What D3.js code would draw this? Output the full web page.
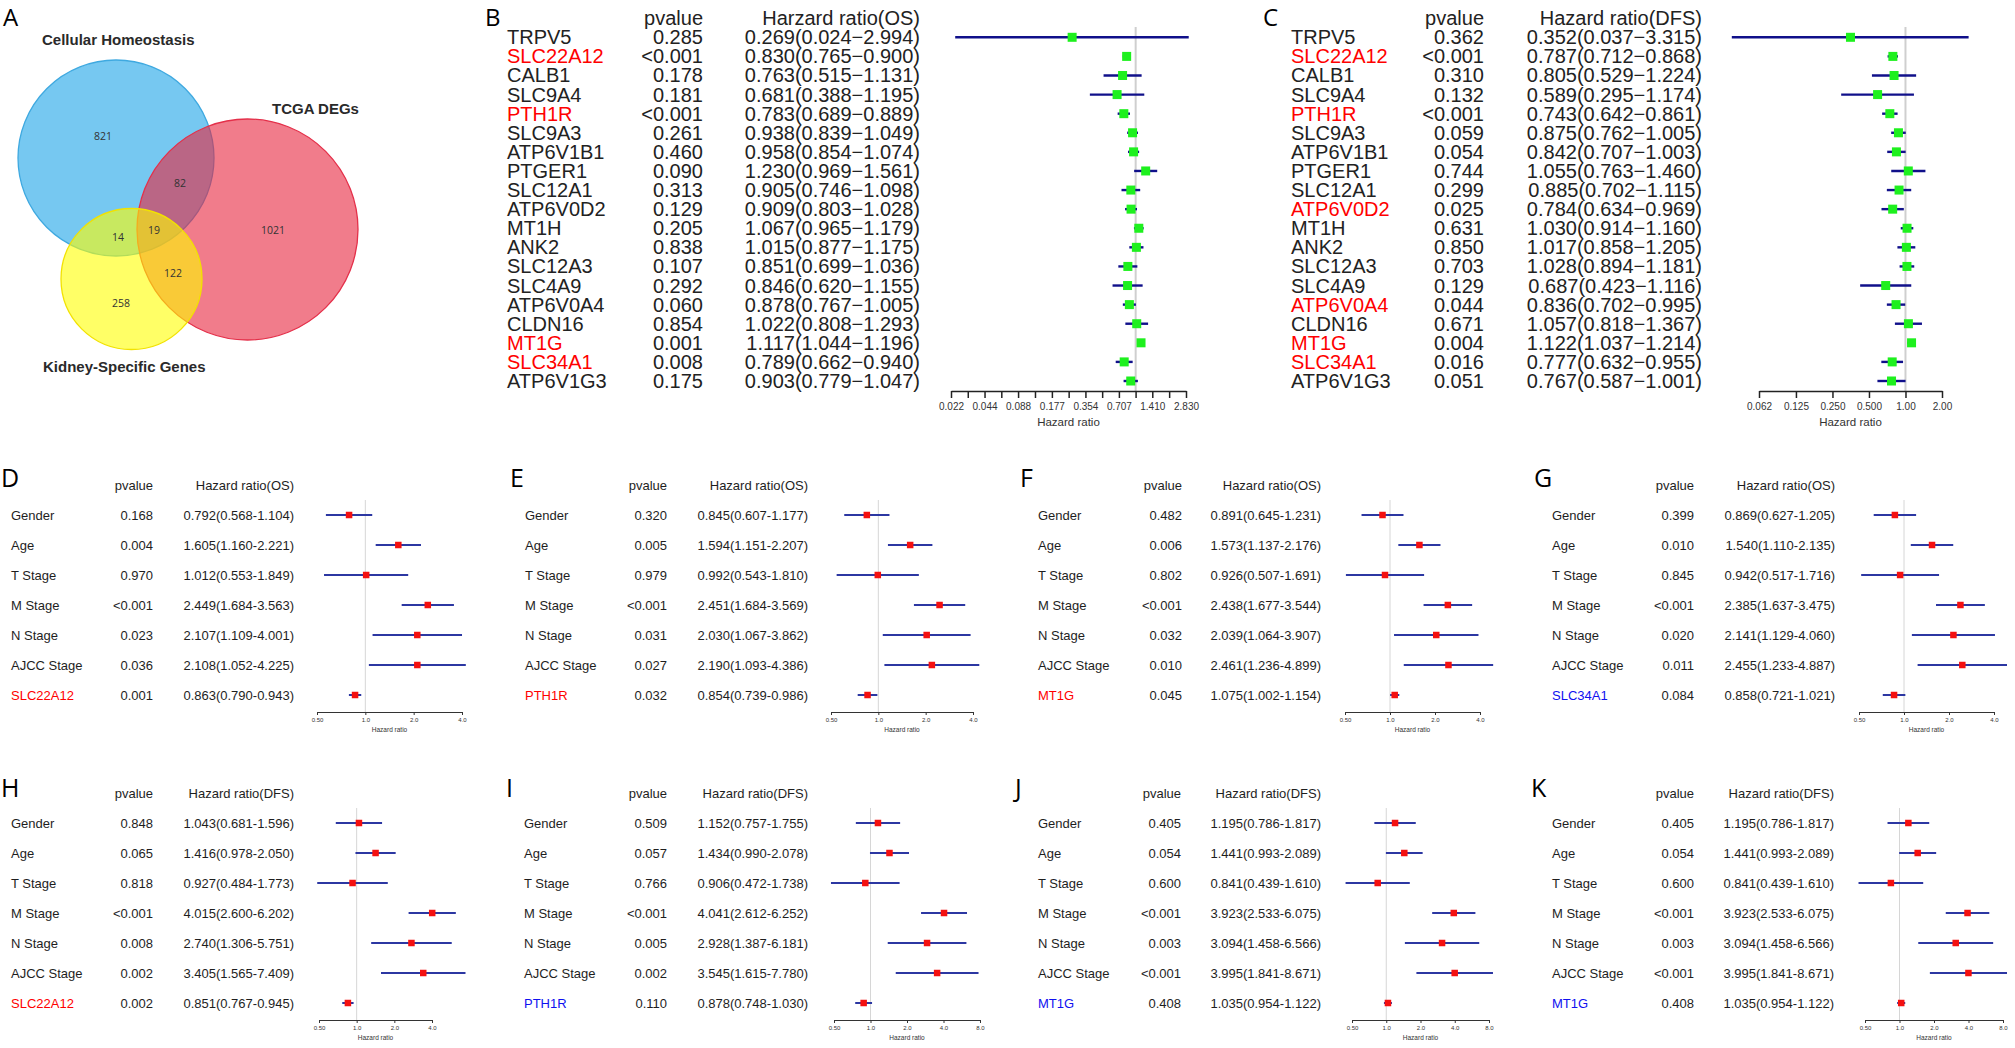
<!DOCTYPE html>
<html>
<head>
<meta charset="utf-8">
<script src="https://cdn.jsdelivr.net/npm/d3@7"></script>
<style>
  body { margin: 0; background: #fff; }
  svg { display: block; }
</style>
</head>
<body>
<script>
// ---------- data ----------

// Venn (panel A)
const vennSets = ["Cellular Homeostasis", "TCGA DEGs", "Kidney-Specific Genes"];
// regions: H only, T only, K only, H&T, H&K, T&K, H&T&K
const vennRegions = ["H", "T", "K", "HT", "HK", "TK", "HTK"];
const vennCounts = [821, 1021, 258, 82, 14, 122, 19];

// Univariate genes (panels B and C)
const genes = ["TRPV5", "SLC22A12", "CALB1", "SLC9A4", "PTH1R", "SLC9A3", "ATP6V1B1", "PTGER1",
  "SLC12A1", "ATP6V0D2", "MT1H", "ANK2", "SLC12A3", "SLC4A9", "ATP6V0A4", "CLDN16", "MT1G",
  "SLC34A1", "ATP6V1G3"];

const osPval = ["0.285", "<0.001", "0.178", "0.181", "<0.001", "0.261", "0.460", "0.090", "0.313",
  "0.129", "0.205", "0.838", "0.107", "0.292", "0.060", "0.854", "0.001", "0.008", "0.175"];
const osHR = [0.269, 0.830, 0.763, 0.681, 0.783, 0.938, 0.958, 1.230, 0.905, 0.909, 1.067, 1.015,
  0.851, 0.846, 0.878, 1.022, 1.117, 0.789, 0.903];
const osLow = [0.024, 0.765, 0.515, 0.388, 0.689, 0.839, 0.854, 0.969, 0.746, 0.803, 0.965, 0.877,
  0.699, 0.620, 0.767, 0.808, 1.044, 0.662, 0.779];
const osHigh = [2.994, 0.900, 1.131, 1.195, 0.889, 1.049, 1.074, 1.561, 1.098, 1.028, 1.179, 1.175,
  1.036, 1.155, 1.005, 1.293, 1.196, 0.940, 1.047];
const osSignif = ["SLC22A12", "PTH1R", "MT1G", "SLC34A1"];
const osTicks = ["0.022", "0.044", "0.088", "0.177", "0.354", "0.707", "1.410", "2.830"];

const dfsPval = ["0.362", "<0.001", "0.310", "0.132", "<0.001", "0.059", "0.054", "0.744", "0.299",
  "0.025", "0.631", "0.850", "0.703", "0.129", "0.044", "0.671", "0.004", "0.016", "0.051"];
const dfsHR = [0.352, 0.787, 0.805, 0.589, 0.743, 0.875, 0.842, 1.055, 0.885, 0.784, 1.030, 1.017,
  1.028, 0.687, 0.836, 1.057, 1.122, 0.777, 0.767];
const dfsLow = [0.037, 0.712, 0.529, 0.295, 0.642, 0.762, 0.707, 0.763, 0.702, 0.634, 0.914, 0.858,
  0.894, 0.423, 0.702, 0.818, 1.037, 0.632, 0.587];
const dfsHigh = [3.315, 0.868, 1.224, 1.174, 0.861, 1.005, 1.003, 1.460, 1.115, 0.969, 1.160, 1.205,
  1.181, 1.116, 0.995, 1.367, 1.214, 0.955, 1.001];
const dfsSignif = ["SLC22A12", "PTH1R", "ATP6V0D2", "ATP6V0A4", "MT1G", "SLC34A1"];
const dfsTicks = ["0.062", "0.125", "0.250", "0.500", "1.00", "2.00"];

// Multivariate panels D-K: [label, pvalue, HR, lower, upper]
const panelD = [["Gender", "0.168", 0.792, 0.568, 1.104], ["Age", "0.004", 1.605, 1.160, 2.221],
  ["T Stage", "0.970", 1.012, 0.553, 1.849], ["M Stage", "<0.001", 2.449, 1.684, 3.563],
  ["N Stage", "0.023", 2.107, 1.109, 4.001], ["AJCC Stage", "0.036", 2.108, 1.052, 4.225],
  ["SLC22A12", "0.001", 0.863, 0.790, 0.943]];
const panelE = [["Gender", "0.320", 0.845, 0.607, 1.177], ["Age", "0.005", 1.594, 1.151, 2.207],
  ["T Stage", "0.979", 0.992, 0.543, 1.810], ["M Stage", "<0.001", 2.451, 1.684, 3.569],
  ["N Stage", "0.031", 2.030, 1.067, 3.862], ["AJCC Stage", "0.027", 2.190, 1.093, 4.386],
  ["PTH1R", "0.032", 0.854, 0.739, 0.986]];
const panelF = [["Gender", "0.482", 0.891, 0.645, 1.231], ["Age", "0.006", 1.573, 1.137, 2.176],
  ["T Stage", "0.802", 0.926, 0.507, 1.691], ["M Stage", "<0.001", 2.438, 1.677, 3.544],
  ["N Stage", "0.032", 2.039, 1.064, 3.907], ["AJCC Stage", "0.010", 2.461, 1.236, 4.899],
  ["MT1G", "0.045", 1.075, 1.002, 1.154]];
const panelG = [["Gender", "0.399", 0.869, 0.627, 1.205], ["Age", "0.010", 1.540, 1.110, 2.135],
  ["T Stage", "0.845", 0.942, 0.517, 1.716], ["M Stage", "<0.001", 2.385, 1.637, 3.475],
  ["N Stage", "0.020", 2.141, 1.129, 4.060], ["AJCC Stage", "0.011", 2.455, 1.233, 4.887],
  ["SLC34A1", "0.084", 0.858, 0.721, 1.021]];
const panelH = [["Gender", "0.848", 1.043, 0.681, 1.596], ["Age", "0.065", 1.416, 0.978, 2.050],
  ["T Stage", "0.818", 0.927, 0.484, 1.773], ["M Stage", "<0.001", 4.015, 2.600, 6.202],
  ["N Stage", "0.008", 2.740, 1.306, 5.751], ["AJCC Stage", "0.002", 3.405, 1.565, 7.409],
  ["SLC22A12", "0.002", 0.851, 0.767, 0.945]];
const panelI = [["Gender", "0.509", 1.152, 0.757, 1.755], ["Age", "0.057", 1.434, 0.990, 2.078],
  ["T Stage", "0.766", 0.906, 0.472, 1.738], ["M Stage", "<0.001", 4.041, 2.612, 6.252],
  ["N Stage", "0.005", 2.928, 1.387, 6.181], ["AJCC Stage", "0.002", 3.545, 1.615, 7.780],
  ["PTH1R", "0.110", 0.878, 0.748, 1.030]];
const panelJ = [["Gender", "0.405", 1.195, 0.786, 1.817], ["Age", "0.054", 1.441, 0.993, 2.089],
  ["T Stage", "0.600", 0.841, 0.439, 1.610], ["M Stage", "<0.001", 3.923, 2.533, 6.075],
  ["N Stage", "0.003", 3.094, 1.458, 6.566], ["AJCC Stage", "<0.001", 3.995, 1.841, 8.671],
  ["MT1G", "0.408", 1.035, 0.954, 1.122]];
const panelK = [["Gender", "0.405", 1.195, 0.786, 1.817], ["Age", "0.054", 1.441, 0.993, 2.089],
  ["T Stage", "0.600", 0.841, 0.439, 1.610], ["M Stage", "<0.001", 3.923, 2.533, 6.075],
  ["N Stage", "0.003", 3.094, 1.458, 6.566], ["AJCC Stage", "<0.001", 3.995, 1.841, 8.671],
  ["MT1G", "0.408", 1.035, 0.954, 1.122]];

const ticksTo4 = ["0.50", "1.0", "2.0", "4.0"];
const ticksTo8 = ["0.50", "1.0", "2.0", "4.0", "8.0"];

// ---------- drawing ----------

const FONT = '"Liberation Sans", Arial, Helvetica, sans-serif';
const LETTER_FONT = '"Open Sans", "DejaVu Sans", sans-serif';
const fmt = d3.format(".3f");

const svg = d3.select("body").append("svg")
  .attr("width", 2015)
  .attr("height", 1048)
  .style("font-family", FONT);

function panelLetter(ch, x, y, size) {
  svg.append("text")
    .attr("x", x).attr("y", y)
    .style("font-family", LETTER_FONT)
    .style("font-size", (size || 25) + "px")
    .attr("fill", "#000")
    .text(ch);
}

// ---- Panel A: Venn ----
function drawVenn() {
  panelLetter("A", 3, 26, 24);
  const g = svg.append("g");

  const circles = [
    {cx: 116, cy: 158, r: 98, fill: "#1aa3e8", stroke: "#3fa9e0"},
    {cx: 247.5, cy: 229.5, r: 110.5, fill: "#e8243e", stroke: "#e4304a"},
    {cx: 131.5, cy: 279, r: 70.5, fill: "#ffff00", stroke: "#f2e200"}
  ];
  g.selectAll("circle")
    .data(circles)
    .join("circle")
    .attr("cx", d => d.cx).attr("cy", d => d.cy).attr("r", d => d.r)
    .attr("fill", d => d.fill).attr("fill-opacity", 0.6)
    .attr("stroke", d => d.stroke).attr("stroke-width", 1.3);

  // where each region's count sits
  const regionPos = {H: [103, 136], T: [273, 230], K: [121, 303], HT: [180, 183],
    HK: [118, 237], TK: [173, 273], HTK: [154, 230]};
  g.selectAll("text.count")
    .data(vennRegions)
    .join("text")
    .attr("class", "count")
    .attr("x", d => regionPos[d][0])
    .attr("y", d => regionPos[d][1])
    .attr("text-anchor", "middle")
    .attr("dy", "0.35em")
    .style("font-family", LETTER_FONT)
    .style("font-size", "10.5px")
    .attr("fill", "#333")
    .text((d, i) => vennCounts[i]);

  const setPos = [[42, 40], [272, 109], [43, 367]];
  g.selectAll("text.set")
    .data(vennSets)
    .join("text")
    .attr("class", "set")
    .attr("x", (d, i) => setPos[i][0])
    .attr("y", (d, i) => setPos[i][1])
    .attr("dy", "0.35em")
    .style("font-size", "15px")
    .style("font-weight", "bold")
    .attr("fill", "#2a2a2a")
    .text(d => d);
}

// ---- Panels B and C: univariate forest plots ----
function drawTop(o) {
  panelLetter(o.letter, o.letterX, 26, 24);
  const g = svg.append("g");
  const y = d3.scalePoint().domain(genes).range([37.3, 381]);

  const majors = o.ticks.map(Number);
  const x = d3.scaleLog().base(2).domain([majors[0], majors[majors.length - 1]]).range(o.axis);

  // header
  g.append("text").attr("x", o.pX).attr("y", 18.3).attr("dy", "0.35em")
    .attr("text-anchor", "end").style("font-size", "20px").attr("fill", "#222").text("pvalue");
  g.append("text").attr("x", o.hrX).attr("y", 18.3).attr("dy", "0.35em")
    .attr("text-anchor", "end").style("font-size", "20px").attr("fill", "#222").text(o.header);

  // columns
  g.selectAll("text.name").data(genes).join("text")
    .attr("x", o.nameX).attr("y", d => y(d)).attr("dy", "0.35em")
    .style("font-size", "20px")
    .attr("fill", d => o.signif.includes(d) ? "#ff0000" : "#222")
    .text(d => d);
  g.selectAll("text.pv").data(genes).join("text")
    .attr("x", o.pX).attr("y", d => y(d)).attr("dy", "0.35em")
    .attr("text-anchor", "end").style("font-size", "20px").attr("fill", "#222")
    .text((d, i) => o.p[i]);
  g.selectAll("text.hr").data(genes).join("text")
    .attr("x", o.hrX).attr("y", d => y(d)).attr("dy", "0.35em")
    .attr("text-anchor", "end").style("font-size", "20px").attr("fill", "#222")
    .text((d, i) => fmt(o.hr[i]) + "(" + fmt(o.lo[i]) + "\u2212" + fmt(o.hi[i]) + ")");

  // reference line at HR = 1
  g.append("line")
    .attr("x1", x(1)).attr("x2", x(1)).attr("y1", 27).attr("y2", 391)
    .attr("stroke", "#cfcfcf").attr("stroke-width", 2);

  // confidence intervals
  g.selectAll("line.ci").data(genes).join("line")
    .attr("x1", (d, i) => x(o.lo[i])).attr("x2", (d, i) => x(o.hi[i]))
    .attr("y1", d => y(d)).attr("y2", d => y(d))
    .attr("stroke", "#10108a").attr("stroke-width", 2.4);

  // boxes
  const bs = 9;
  g.selectAll("rect.box").data(genes).join("rect")
    .attr("x", (d, i) => x(o.hr[i]) - bs / 2).attr("y", d => y(d) - bs / 2)
    .attr("width", bs).attr("height", bs)
    .attr("fill", "#1ef01e");

  // axis
  let values = majors.slice();
  if (o.minor) {
    for (let i = 0; i < majors.length - 1; ++i) values.push(Math.sqrt(majors[i] * majors[i + 1]));
    values.sort((a, b) => a - b);
  }
  const axis = d3.axisBottom(x)
    .tickValues(values)
    .tickFormat(v => {
      const k = majors.indexOf(v);
      return k >= 0 ? o.ticks[k] : "";
    })
    .tickSize(7).tickSizeOuter(0).tickPadding(5);
  const ag = g.append("g").attr("transform", "translate(0,391)").call(axis);
  ag.select(".domain").attr("stroke", "#222").attr("stroke-width", 1.5);
  ag.selectAll(".tick line").attr("stroke", "#222").attr("stroke-width", 1.5);
  ag.selectAll(".tick text").style("font-size", "10px").style("font-family", FONT).attr("fill", "#333");

  g.append("text")
    .attr("x", (o.axis[0] + o.axis[1]) / 2).attr("y", 422).attr("dy", "0.35em")
    .attr("text-anchor", "middle").style("font-size", "11.5px").attr("fill", "#333")
    .text("Hazard ratio");
}

// ---- Panels D-K: multivariate forest plots ----
const rowLayout = [
  {letterY: 487, headerY: 485, y0: 515, axisY: 712, refTop: 500, header: "Hazard ratio(OS)"},
  {letterY: 797, headerY: 793, y0: 823, axisY: 1020, refTop: 808, header: "Hazard ratio(DFS)"}
];

function drawBottom(o) {
  const R = rowLayout[o.row];
  panelLetter(o.letter, o.lx, R.letterY);
  const g = svg.append("g");
  const rows = o.data;
  const y = d3.scalePoint().domain(d3.range(rows.length)).range([R.y0, R.y0 + 180]);
  const majors = o.ticks.map(Number);
  const x = d3.scaleLog().base(2).domain([majors[0], majors[majors.length - 1]]).range(o.axis);
  const ink = "#1e1e1e";

  g.append("text").attr("x", o.pX).attr("y", R.headerY).attr("dy", "0.35em")
    .attr("text-anchor", "end").style("font-size", "13px").attr("fill", ink).text("pvalue");
  g.append("text").attr("x", o.hrX).attr("y", R.headerY).attr("dy", "0.35em")
    .attr("text-anchor", "end").style("font-size", "13px").attr("fill", ink).text(R.header);

  g.selectAll("text.name").data(rows).join("text")
    .attr("x", o.nameX).attr("y", (d, i) => y(i)).attr("dy", "0.35em")
    .style("font-size", "13px")
    .attr("fill", (d, i) => i === rows.length - 1 ? o.geneColor : ink)
    .text(d => d[0]);
  g.selectAll("text.pv").data(rows).join("text")
    .attr("x", o.pX).attr("y", (d, i) => y(i)).attr("dy", "0.35em")
    .attr("text-anchor", "end").style("font-size", "13px").attr("fill", ink)
    .text(d => d[1]);
  g.selectAll("text.hr").data(rows).join("text")
    .attr("x", o.hrX).attr("y", (d, i) => y(i)).attr("dy", "0.35em")
    .attr("text-anchor", "end").style("font-size", "13px").attr("fill", ink)
    .text(d => fmt(d[2]) + "(" + fmt(d[3]) + "-" + fmt(d[4]) + ")");

  g.append("line")
    .attr("x1", x(1)).attr("x2", x(1)).attr("y1", R.refTop).attr("y2", R.axisY)
    .attr("stroke", "#d6d6d6").attr("stroke-width", 1);

  g.selectAll("line.ci").data(rows).join("line")
    .attr("x1", d => x(d[3])).attr("x2", d => x(d[4]))
    .attr("y1", (d, i) => y(i)).attr("y2", (d, i) => y(i))
    .attr("stroke", "#2c37a2").attr("stroke-width", 2);

  const bs = 6.5;
  g.selectAll("rect.box").data(rows).join("rect")
    .attr("x", d => x(d[2]) - bs / 2).attr("y", (d, i) => y(i) - bs / 2)
    .attr("width", bs).attr("height", bs)
    .attr("fill", "#f41010");

  const axis = d3.axisBottom(x)
    .tickValues(majors)
    .tickFormat((v, k) => o.ticks[k])
    .tickSize(3).tickSizeOuter(0).tickPadding(3);
  const ag = g.append("g").attr("transform", "translate(0," + R.axisY + ")").call(axis);
  ag.select(".domain").attr("stroke", "#333").attr("stroke-width", 1);
  ag.selectAll(".tick line").attr("stroke", "#333");
  ag.selectAll(".tick text").style("font-size", "6px").style("font-family", FONT).attr("fill", "#333");

  g.append("text")
    .attr("x", (o.axis[0] + o.axis[1]) / 2).attr("y", R.axisY + 18).attr("dy", "0.35em")
    .attr("text-anchor", "middle").style("font-size", "6.5px").attr("fill", "#333")
    .text("Hazard ratio");
}

drawVenn();

drawTop({letter: "B", letterX: 485, nameX: 507, pX: 703, hrX: 920, header: "Harzard ratio(OS)",
  p: osPval, hr: osHR, lo: osLow, hi: osHigh, signif: osSignif,
  ticks: osTicks, axis: [951, 1186], minor: true});
drawTop({letter: "C", letterX: 1263, nameX: 1291, pX: 1484, hrX: 1702, header: "Hazard ratio(DFS)",
  p: dfsPval, hr: dfsHR, lo: dfsLow, hi: dfsHigh, signif: dfsSignif,
  ticks: dfsTicks, axis: [1759, 1942], minor: false});

const RED = "#ff0000", BLUE = "#1010f0";
[
  {letter: "D", data: panelD, geneColor: RED, row: 0, lx: 1, nameX: 11, pX: 153, hrX: 294, axis: [317, 462], ticks: ticksTo4},
  {letter: "E", data: panelE, geneColor: RED, row: 0, lx: 510, nameX: 525, pX: 667, hrX: 808, axis: [831, 973], ticks: ticksTo4},
  {letter: "F", data: panelF, geneColor: RED, row: 0, lx: 1020, nameX: 1038, pX: 1182, hrX: 1321, axis: [1345, 1480], ticks: ticksTo4},
  {letter: "G", data: panelG, geneColor: BLUE, row: 0, lx: 1534, nameX: 1552, pX: 1694, hrX: 1835, axis: [1859, 1994], ticks: ticksTo4},
  {letter: "H", data: panelH, geneColor: RED, row: 1, lx: 1, nameX: 11, pX: 153, hrX: 294, axis: [319, 432], ticks: ticksTo4},
  {letter: "I", data: panelI, geneColor: BLUE, row: 1, lx: 506, nameX: 524, pX: 667, hrX: 808, axis: [834, 980], ticks: ticksTo8},
  {letter: "J", data: panelJ, geneColor: BLUE, row: 1, lx: 1015, nameX: 1038, pX: 1181, hrX: 1321, axis: [1352, 1489], ticks: ticksTo8},
  {letter: "K", data: panelK, geneColor: BLUE, row: 1, lx: 1531, nameX: 1552, pX: 1694, hrX: 1834, axis: [1865, 2003], ticks: ticksTo8}
].forEach(drawBottom);
</script>
</body>
</html>
